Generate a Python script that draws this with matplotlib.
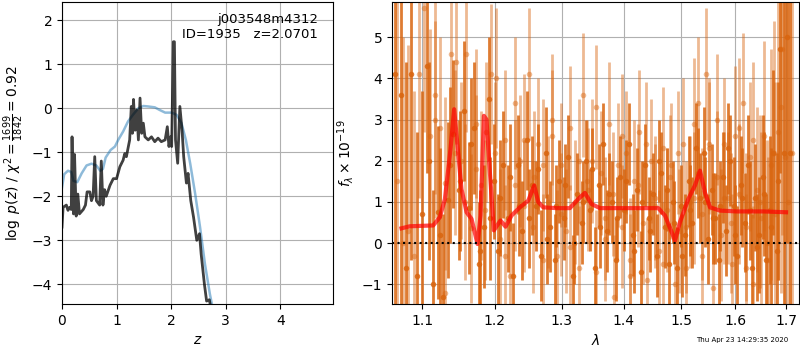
import matplotlib
matplotlib.use("Agg")
import matplotlib.pyplot as plt
from matplotlib.ticker import NullLocator, FixedLocator, FixedFormatter

# --- p(z) panel ---
z_chi = [0.0, 0.02, 0.08, 0.11, 0.14, 0.17, 0.184, 0.21, 0.23, 0.26, 0.29, 0.32, 0.39, 0.43,
         0.46, 0.51, 0.54, 0.57, 0.60, 0.63, 0.69, 0.72, 0.75, 0.78, 0.81, 0.88, 0.94, 1.0,
         1.06, 1.12, 1.15, 1.18, 1.24, 1.27, 1.29, 1.31, 1.34, 1.37, 1.40, 1.43, 1.46, 1.49,
         1.52, 1.58, 1.64, 1.70, 1.76, 1.82, 1.89, 1.93, 1.96, 1.99, 2.01, 2.04, 2.06, 2.08,
         2.12, 2.16, 2.20, 2.23, 2.28, 2.31, 2.36, 2.41, 2.47, 2.52, 2.55, 2.61, 2.65, 2.70, 2.73]
logp = [-2.7, -2.25, -2.2, -2.32, -2.25, -2.3, -0.65, -2.4, -1.05, -2.45, -1.95, -2.4, -2.3, -2.2,
        -1.9, -1.9, -2.1, -2.0, -1.1, -2.1, -2.2, -1.2, -2.2, -1.85, -2.0, -1.75, -1.6, -1.6,
        -1.33, -1.18, -1.03, -1.1, -0.72, 0.04, -0.57, 0.2, -0.5, -0.04, -0.72, 0.23, -0.57, -0.34,
        -0.65, -0.72, -0.65, -0.76, -0.68, -0.76, -0.72, -0.42, -0.87, -0.65, -0.87, 1.51, 1.51, -0.72,
        -1.25, 0.04, -0.5, -1.1, -1.7, -1.48, -2.1, -2.47, -3.0, -2.85, -3.31, -4.0, -4.38, -4.35, -4.55]

z_prior = [0.0, 0.04, 0.11, 0.17, 0.21, 0.28, 0.36, 0.45, 0.54, 0.63, 0.70, 0.75, 0.80, 0.89,
           0.97, 1.03, 1.12, 1.21, 1.30, 1.40, 1.49, 1.58, 1.70, 1.79, 1.89, 2.01, 2.10, 2.19,
           2.27, 2.35, 2.44, 2.53, 2.62, 2.71, 2.76]
logp_prior = [-1.8, -1.5, -1.42, -1.45, -1.65, -1.68, -1.48, -1.3, -1.26, -1.3, -1.42, -1.38, -1.12, -0.95,
              -0.87, -0.72, -0.53, -0.3, -0.15, 0.0, 0.05, 0.04, 0.02, -0.04, -0.1, -0.1, -0.15, -0.34,
              -0.72, -1.26, -1.94, -2.7, -3.54, -4.22, -4.53]

# --- spectrum panel: dark points ---
wave_a = [1.065, 1.072, 1.079, 1.086, 1.093, 1.100, 1.107, 1.114, 1.121, 1.128,
          1.135, 1.142, 1.149, 1.156, 1.163, 1.170, 1.177, 1.184, 1.191, 1.198,
          1.205, 1.212, 1.219, 1.226, 1.233, 1.240, 1.247, 1.254, 1.261, 1.268,
          1.275, 1.282, 1.289, 1.296, 1.303, 1.310, 1.317, 1.324, 1.331, 1.338,
          1.345, 1.352, 1.359, 1.366, 1.373, 1.380, 1.387, 1.394, 1.401, 1.408,
          1.415, 1.422, 1.429, 1.436, 1.443, 1.450, 1.457, 1.464, 1.471, 1.478,
          1.485, 1.492, 1.499, 1.506, 1.513, 1.520, 1.527, 1.534, 1.541, 1.548,
          1.555, 1.562, 1.569, 1.576, 1.583, 1.590, 1.597, 1.604, 1.611, 1.618,
          1.625, 1.632, 1.639, 1.646, 1.653, 1.660, 1.667, 1.674, 1.681, 1.688,
          1.695, 1.702, 1.709]
flux_a = [4.1, 3.6, -0.6, 4.1, -0.8, 0.7, 4.3, -1.0, 0.75, -1.3,
          1.05, 2.65, 1.3, 3.2, 0.85, 2.8, -0.5, 0.4, 3.5, 1.5,
          -0.2, 1.9, 0.6, -0.8, 1.9, 0.3, 2.5, 1.4, 0.9, -0.3,
          2.2, 0.4, -0.4, 1.5, 0.6, 2.1, -0.8, 1.2, 0.5, 2.0,
          0.8, -0.6, 1.4, 2.4, 0.3, 1.0, -0.4, 1.6, 0.8, 2.4,
          0.2, 1.3, -0.7, 1.9, 0.6, 1.2, -0.3, 1.7, 0.4, -0.5,
          1.0, -0.6, 0.9, 0.2, 1.5, 0.5, 2.3, 1.1, 2.2, 0.1,
          1.3, 0.6, -0.4, 1.6, 0.3, 2.0, 0.9, -0.3, 1.4, 0.5,
          1.9, -0.6, 1.1, 0.2, 1.6, -0.4, 0.8, 2.2, -0.2, 4.7,
          2.2, 5.0, 2.2]
err_a = [6.0, 5.5, 5.0, 4.5, 3.5, 3.0, 2.6, 2.3, 2.1, 2.0,
         1.9, 1.8, 1.7, 1.7, 1.6, 1.6, 1.5, 1.5, 1.5, 1.4,
         1.4, 1.3, 1.3, 1.3, 1.2, 1.2, 1.2, 1.2, 1.1, 1.1,
         1.1, 1.1, 1.1, 1.0, 1.0, 1.0, 1.0, 1.0, 1.0, 1.0,
         1.0, 1.0, 1.0, 1.0, 1.0, 1.0, 1.0, 1.0, 1.0, 1.0,
         1.0, 1.0, 1.0, 1.0, 1.0, 1.0, 1.0, 1.0, 1.0, 1.0,
         1.0, 1.0, 1.0, 1.0, 1.1, 1.1, 1.1, 1.1, 1.1, 1.1,
         1.1, 1.1, 1.1, 1.1, 1.1, 1.1, 1.2, 1.2, 1.2, 1.2,
         1.2, 1.3, 1.3, 1.4, 1.5, 1.6, 1.8, 2.0, 2.4, 3.0,
         4.0, 5.0, 6.0]

wave_c = [1.1095, 1.1235, 1.1375, 1.1515, 1.1655, 1.1795, 1.1935, 1.2075, 1.2215, 1.2355,
          1.2495, 1.2635, 1.2775, 1.2915, 1.3055, 1.3195, 1.3335, 1.3475, 1.3615, 1.3755,
          1.3895, 1.4035, 1.4175, 1.4315, 1.4455, 1.4595, 1.4735, 1.4875, 1.5015, 1.5155,
          1.5295, 1.5435, 1.5575, 1.5715, 1.5855, 1.5995, 1.6135, 1.6275, 1.6415, 1.6555,
          1.6695, 1.6835]
flux_c = [2.0, 0.2, 1.9, 1.5, 2.4, -0.2, 0.6, 1.1, 1.6, 0.9,
          0.6, 1.8, 0.1, 0.9, 1.4, 0.0, 1.0, 1.8, 0.4, 1.2,
          0.6, 1.5, -0.2, 1.0, 0.3, 2.0, 1.3, 0.5, -0.3, 0.8,
          1.7, 1.0, 0.6, 0.9, 2.3, 0.2, 1.1, 0.8, -0.1, 1.2,
          0.4, 1.5]
err_c = [2.4, 2.1, 1.9, 1.7, 1.6, 1.5, 1.5, 1.4, 1.3, 1.2,
         1.2, 1.1, 1.1, 1.0, 1.0, 1.0, 1.0, 1.0, 1.0, 1.0,
         1.0, 1.0, 1.0, 1.0, 1.0, 1.0, 1.0, 1.0, 1.0, 1.1,
         1.1, 1.1, 1.1, 1.1, 1.1, 1.2, 1.2, 1.2, 1.3, 1.5,
         1.9, 2.4]

# --- spectrum panel: light points ---
wave_b = [1.068, 1.075, 1.082, 1.089, 1.096, 1.103, 1.110, 1.117, 1.124, 1.131,
          1.138, 1.145, 1.152, 1.159, 1.166, 1.173, 1.180, 1.187, 1.194, 1.201,
          1.208, 1.215, 1.222, 1.229, 1.236, 1.243, 1.250, 1.257, 1.264, 1.271,
          1.278, 1.285, 1.292, 1.299, 1.306, 1.313, 1.320, 1.327, 1.334, 1.341,
          1.348, 1.355, 1.362, 1.369, 1.376, 1.383, 1.390, 1.397, 1.404, 1.411,
          1.418, 1.425, 1.432, 1.439, 1.446, 1.453, 1.460, 1.467, 1.474, 1.481,
          1.488, 1.495, 1.502, 1.509, 1.516, 1.523, 1.530, 1.537, 1.544, 1.551,
          1.558, 1.565, 1.572, 1.579, 1.586, 1.593, 1.600, 1.607, 1.614, 1.621,
          1.628, 1.635, 1.642, 1.649, 1.656, 1.663, 1.670, 1.677, 1.684, 1.691,
          1.698, 1.705, 1.712]
flux_b = [1.5, 0.0, 0.3, -0.3, 4.1, 5.7, 2.6, 3.6, 2.8, 1.45,
          4.6, 4.4, 2.0, 4.6, 0.36, 1.8, 1.4, 2.7, 4.1, 4.0,
          0.1, 2.5, -0.8, 3.4, 2.0, 0.9, 4.1, 1.6, 2.4, -0.4,
          1.0, 2.6, -0.3, 1.9, 0.3, 2.8, 1.0, -0.6, 3.6, 1.3,
          2.0, -0.7, 1.7, 0.6, 2.9, -1.3, 1.9, 0.4, 2.2, -0.4,
          1.5, 2.7, 0.5, -0.9, 2.0, 1.1, -0.2, 2.3, 0.8, 1.9,
          -1.0, 0.3, 2.4, -0.6, 1.0, 2.9, 3.4, 0.7, 4.1, 2.3,
          -1.1, 1.6, 0.2, 2.4, 1.1, -0.5, 2.6, 1.2, 3.4, 0.4,
          2.1, -1.0, 1.3, 0.6, 2.6, -0.4, 1.9, 0.7, 2.7, 4.7,
          2.1, 1.0, 2.2]
err_b = [6.0, 5.0, 4.5, 4.0, 3.0, 3.0, 2.6, 2.4, 2.2, 2.1,
         2.0, 2.0, 1.9, 1.9, 1.8, 1.8, 1.8, 1.7, 1.7, 1.7,
         1.7, 1.7, 1.6, 1.6, 1.6, 1.6, 1.6, 1.6, 1.6, 1.6,
         1.6, 1.6, 1.6, 1.5, 1.5, 1.5, 1.5, 1.5, 1.5, 1.5,
         1.5, 1.5, 1.5, 1.5, 1.5, 1.5, 1.5, 1.5, 1.5, 1.5,
         1.5, 1.5, 1.5, 1.5, 1.5, 1.5, 1.5, 1.5, 1.5, 1.5,
         1.5, 1.5, 1.6, 1.6, 1.6, 1.6, 1.6, 1.6, 1.6, 1.6,
         1.6, 1.6, 1.6, 1.6, 1.6, 1.7, 1.7, 1.7, 1.7, 1.8,
         1.8, 1.9, 2.0, 2.1, 2.3, 2.5, 2.8, 3.2, 3.6, 4.5,
         5.0, 6.0, 6.0]

wave_d = [1.1165, 1.1305, 1.1445, 1.1585, 1.1725, 1.1865, 1.2005, 1.2145, 1.2285, 1.2425,
          1.2565, 1.2705, 1.2845, 1.2985, 1.3125, 1.3265, 1.3405, 1.3545, 1.3685, 1.3825,
          1.3965, 1.4105, 1.4245, 1.4385, 1.4525, 1.4665, 1.4805, 1.4945, 1.5085, 1.5225,
          1.5365, 1.5505, 1.5645, 1.5785, 1.5925, 1.6065, 1.6205, 1.6345, 1.6485, 1.6625,
          1.6765, 1.6905]
flux_d = [3.0, -1.2, 2.2, 1.0, 2.9, 0.8, 2.2, -0.3, 1.4, 2.5,
          0.4, 1.9, 3.0, 0.7, -0.1, 2.0, 1.5, 3.3, 0.1, 1.2,
          2.6, -0.8, 1.4, 2.4, 0.9, -0.5, 1.6, 2.2, 0.4, 1.1,
          -0.3, 2.4, 3.0, 1.1, 0.5, 2.8, -0.6, 2.5, 1.0, 0.0,
          2.2, 3.3]
err_d = [2.4, 2.2, 2.0, 1.9, 1.8, 1.7, 1.7, 1.7, 1.6, 1.6,
         1.6, 1.6, 1.6, 1.5, 1.5, 1.5, 1.5, 1.5, 1.5, 1.5,
         1.5, 1.5, 1.5, 1.5, 1.5, 1.5, 1.5, 1.5, 1.6, 1.6,
         1.6, 1.6, 1.6, 1.6, 1.7, 1.7, 1.8, 1.9, 2.1, 2.5,
         3.2, 4.5]

wave_model = [1.0731, 1.0839, 1.1146, 1.1235, 1.1303, 1.1379, 1.1429, 1.1471, 1.1530, 1.1600,
              1.1669, 1.1753, 1.1796, 1.1843, 1.1880, 1.1928, 1.1985, 1.2081, 1.2154, 1.2241,
              1.2364, 1.2488, 1.2578, 1.2638, 1.2714, 1.2919, 1.3126, 1.3258, 1.3364, 1.3471,
              1.3607, 1.4104, 1.4591, 1.4708, 1.4826, 1.4885, 1.4974, 1.5124, 1.5245, 1.5337,
              1.5429, 1.5522, 1.5709, 1.6025, 1.6545, 1.7000]
flux_model = [0.36, 0.41, 0.43, 0.63, 1.07, 2.28, 3.25, 2.44, 1.31, 0.75,
              0.59, -0.02, 0.67, 3.09, 3.0, 1.72, 0.31, 0.55, 0.4, 0.67,
              0.87, 1.03, 1.40, 1.0, 0.87, 0.85, 0.85, 1.07, 1.22, 0.95,
              0.85, 0.85, 0.85, 0.67, 0.27, 0.06, 0.51, 1.07, 1.4, 1.76,
              1.23, 0.87, 0.79, 0.77, 0.77, 0.75]

lam_ticks = [1.1, 1.2, 1.3, 1.4, 1.5, 1.6, 1.7]

fig = plt.figure(figsize=(8, 3.5), dpi=100)
ax1 = fig.add_axes([0.0775, 0.131, 0.339, 0.863])
ax2 = fig.add_axes([0.49, 0.131, 0.509, 0.863])

ax1.plot(z_prior, logp_prior, color='C0', alpha=0.5, lw=1.8)
ax1.plot(z_chi, logp, color='k', alpha=0.75, lw=2)
ax1.set_xlim(0, 4.97)
ax1.set_ylim(-4.45, 2.41)
ax1.set_xlabel('$z$')
ax1.set_ylabel(r'$\log\ p(z)$' + ' / ' + r'$\chi^2=\frac{1699}{1842}=0.92$')
ax1.grid(True)
ax1.text(0.945, 0.965, 'j003548m4312\nID=1935   z=2.0701', transform=ax1.transAxes,
         ha='right', va='top', fontsize=9.5)

orange = '#d9650f'
for w, f, e in [(wave_b, flux_b, err_b), (wave_d, flux_d, err_d)]:
    ax2.errorbar(w, f, yerr=e, color=orange, alpha=0.45, marker='o', ms=4,
                 linestyle='none', elinewidth=2, mec='none')
for w, f, e in [(wave_a, flux_a, err_a), (wave_c, flux_c, err_c)]:
    ax2.errorbar(w, f, yerr=e, color=orange, alpha=0.85, marker='o', ms=4,
                 linestyle='none', elinewidth=2, mec='none')
ax2.plot(wave_model, flux_model, color='r', alpha=0.7, lw=3, zorder=10)
ax2.axhline(0, color='k', linestyle=':', lw=1.5, zorder=11)
ax2.set_xscale('log')
ax2.xaxis.set_major_locator(FixedLocator(lam_ticks))
ax2.xaxis.set_major_formatter(FixedFormatter([str(t) for t in lam_ticks]))
ax2.xaxis.set_minor_locator(NullLocator())
ax2.set_xlim(1.061, 1.727)
ax2.set_ylim(-1.48, 5.85)
ax2.set_xlabel(r'$\lambda$')
ax2.set_ylabel(r'$f_\lambda\times10^{-19}$')
ax2.grid(True)

fig.text(0.985, 0.028, 'Thu Apr 23 14:29:35 2020', ha='right', va='center', fontsize=5)

fig.savefig('out.png', dpi=100)
